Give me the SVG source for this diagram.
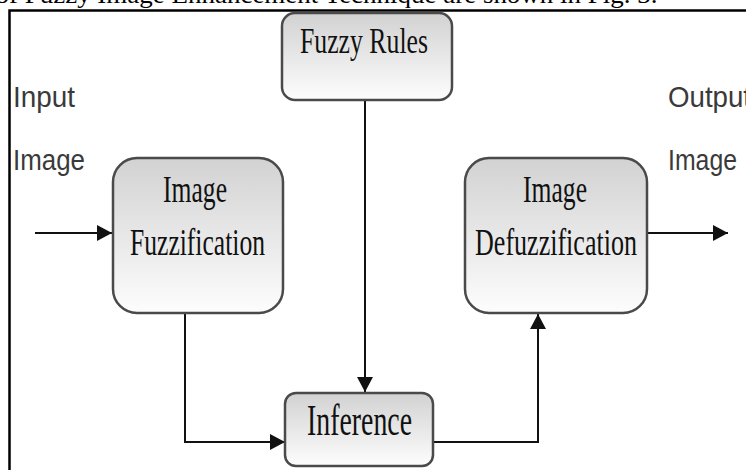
<svg xmlns="http://www.w3.org/2000/svg" width="746" height="470" viewBox="0 0 746 470">
<defs>
<linearGradient id="boxfill" x1="0" y1="0" x2="0" y2="1">
<stop offset="0" stop-color="#d2d2d2"/>
<stop offset="1" stop-color="#fdfdfd"/>
</linearGradient>
<marker id="arr" markerUnits="userSpaceOnUse" markerWidth="15" markerHeight="16" refX="15" refY="8" orient="auto">
<path d="M0,0 L15,8 L0,16 Z" fill="#111"/>
</marker>
<style>
.box{fill:url(#boxfill);stroke:#4a4a4a;stroke-width:2.5}
.lbl{font-family:"Liberation Serif","Times New Roman",serif;fill:#111;text-anchor:start}
.side{font-family:"Liberation Sans",Arial,sans-serif;font-size:30px;fill:#3a3a3a}
.conn{fill:none;stroke:#111;stroke-width:2}
</style>
</defs>
<rect width="746" height="470" fill="#fff"/>
<text x="-4.5" y="2.5" font-family="Liberation Serif,'Times New Roman',serif" font-size="24.5" fill="#000" textLength="662" lengthAdjust="spacingAndGlyphs">of Fuzzy Image Enhancement Technique are shown in Fig. 3.</text>
<path d="M9.5,470 V10.5 H746" fill="none" stroke="#000" stroke-width="2.5"/>

<g id="connectors">
<path class="conn" d="M35,233 H112" marker-end="url(#arr)"/>
<path class="conn" d="M647,233 H728" marker-end="url(#arr)"/>
<path class="conn" d="M365,100 V392" marker-end="url(#arr)"/>
<path class="conn" d="M185,313 V442 H285" marker-end="url(#arr)"/>
<path class="conn" d="M433,442 H538 V314" marker-end="url(#arr)"/>
</g>

<g id="fuzzy-rules">
<rect class="box" x="282" y="13" width="170" height="87" rx="13"/>
<text class="lbl" x="300" y="53" font-size="36" textLength="128" lengthAdjust="spacingAndGlyphs">Fuzzy Rules</text>
</g>

<g id="image-fuzzification">
<rect class="box" x="113" y="158" width="170" height="155" rx="24"/>
<text class="lbl" x="163" y="202" font-size="37" textLength="64" lengthAdjust="spacingAndGlyphs">Image</text>
<text class="lbl" x="130" y="255" font-size="37" textLength="135" lengthAdjust="spacingAndGlyphs">Fuzzification</text>
</g>

<g id="image-defuzzification">
<rect class="box" x="465" y="158" width="182" height="155" rx="24"/>
<text class="lbl" x="523" y="202" font-size="37" textLength="64" lengthAdjust="spacingAndGlyphs">Image</text>
<text class="lbl" x="475" y="255" font-size="37" textLength="162" lengthAdjust="spacingAndGlyphs">Defuzzification</text>
</g>

<g id="inference">
<rect class="box" x="285" y="393" width="148" height="73" rx="11"/>
<text class="lbl" x="307" y="435" font-size="44" textLength="105" lengthAdjust="spacingAndGlyphs">Inference</text>
</g>

<g id="input-label">
<text class="side" x="13" y="107" textLength="62" lengthAdjust="spacingAndGlyphs">Input</text>
<text class="side" x="13" y="170" textLength="72" lengthAdjust="spacingAndGlyphs">Image</text>
</g>

<g id="output-label">
<text class="side" x="668" y="107" textLength="83" lengthAdjust="spacingAndGlyphs">Output</text>
<text class="side" x="668" y="170" textLength="69" lengthAdjust="spacingAndGlyphs">Image</text>
</g>
</svg>
